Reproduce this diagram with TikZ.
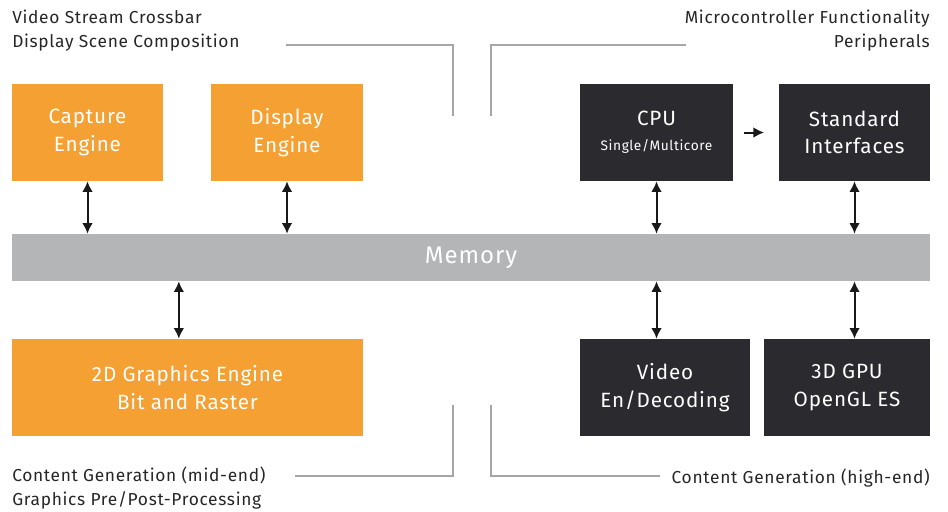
\documentclass[tikz,border=0pt]{standalone}
\usepackage{fontspec}
\setmainfont[LetterSpace=4]{Fira Sans}
\usepackage{xcolor}
\usetikzlibrary{positioning}
\usetikzlibrary{arrows.meta}

\definecolor{engOrange}{HTML}{F5A033}
\definecolor{mcuDark}{HTML}{2B2A2F}
\definecolor{memGray}{HTML}{B4B5B7}
\definecolor{leadGray}{HTML}{A6A6A6}

\begin{document}
\begin{tikzpicture}[x=0.75pt, y=-0.75pt,
		block/.style={
			rectangle,
			minimum height=72.75pt,
			text=white,
			align=center,
			font=\fontsize{15.5}{20.5}\selectfont,
			inner sep=0pt
		},
		engine/.style={block, fill=engOrange},
		mcu/.style={block, fill=mcuDark},
		biarrow/.style={{Latex[length=8pt,width=8pt]}-{Latex[length=8pt,width=8pt]}, line width=1.5pt, black!90},
		leader/.style={leadGray, line width=1.3pt},
		caption/.style={font=\fontsize{13}{18}\selectfont, text=black!85, inner sep=0pt}]
		\useasboundingbox (0,0) rectangle (948,511);
		
		\node[engine, minimum width=113.25pt] (capture) at (87.5,132.5) {Capture\\Engine};
		\node[engine, minimum width=114pt] (display) at (287,132.5) {Display\\Engine};
		\node[mcu, minimum width=114.75pt] (cpu) at (656.5,132.5) {CPU\\[-2pt]{\fontsize{10.3}{13}\selectfont Single/Multicore}};
		\node[mcu, minimum width=113.25pt] (stdif) at (854.5,132.5) {Standard\\Interfaces};
		
		\node[rectangle, fill=memGray, minimum width=688.5pt, minimum height=35.25pt, text=white,
			font=\fontsize{18}{20}\selectfont, inner sep=0pt] (mem) at (471,257.5) {Memory};
		
		\node[engine, minimum width=263.25pt] (gfx2d) at (187.5,387.5) {2D Graphics Engine\\Bit and Raster};
		\node[mcu, minimum width=127.5pt] (video) at (665,387.5) {Video\\En/Decoding};
		\node[mcu, minimum width=124.5pt] (gpu3d) at (847,387.5) {3D GPU\\OpenGL ES};
		
		\draw[biarrow] (capture.south) -- (capture.south |- mem.north);
		\draw[biarrow] (display.south) -- (display.south |- mem.north);
		\draw[biarrow] (cpu.south) -- (cpu.south |- mem.north);
		\draw[biarrow] (stdif.south) -- (stdif.south |- mem.north);
		\draw[biarrow] ([xshift=-6.5]gfx2d.north) -- ([xshift=-6.5]gfx2d.north |- mem.south);
		\draw[biarrow] (cpu.south |- video.north) -- (cpu.south |- mem.south);
		\draw[biarrow] (stdif.south |- gpu3d.north) -- (stdif.south |- mem.south);
		\draw[-{Latex[length=8pt,width=8pt]}, line width=1.5pt, black!90] ([xshift=8]cpu.east) -- ([xshift=-11]stdif.west);
		
		% captions and leaders
		\node[caption, anchor=north west, align=left] (capTL) at (12,10) {Video Stream Crossbar\\Display Scene Composition};
		\node[caption, anchor=north east, align=right] (capTR) at (930,10) {Microcontroller Functionality\\Peripherals};
		\node[caption, anchor=north west, align=left] (capBL) at (12,467) {Content Generation (mid-end)\\Graphics Pre/Post-Processing};
		\node[caption, anchor=north east, align=right] (capBR) at (930,469) {Content Generation (high-end)};
		
		\coordinate (tlA) at (286,45);
		\coordinate (tlB) at (453,116);
		\coordinate (trA) at (686,45);
		\coordinate (trB) at (491,116);
		\coordinate (blA) at (295,476);
		\coordinate (blB) at (453,405);
		\coordinate (brA) at (660,476);
		\coordinate (brB) at (491,405);
		\draw[leader] (tlA) -| (tlB);
		\draw[leader] (trA) -| (trB);
		\draw[leader] (blA) -| (blB);
		\draw[leader] (brA) -| (brB);
	\end{tikzpicture}
\end{document}
